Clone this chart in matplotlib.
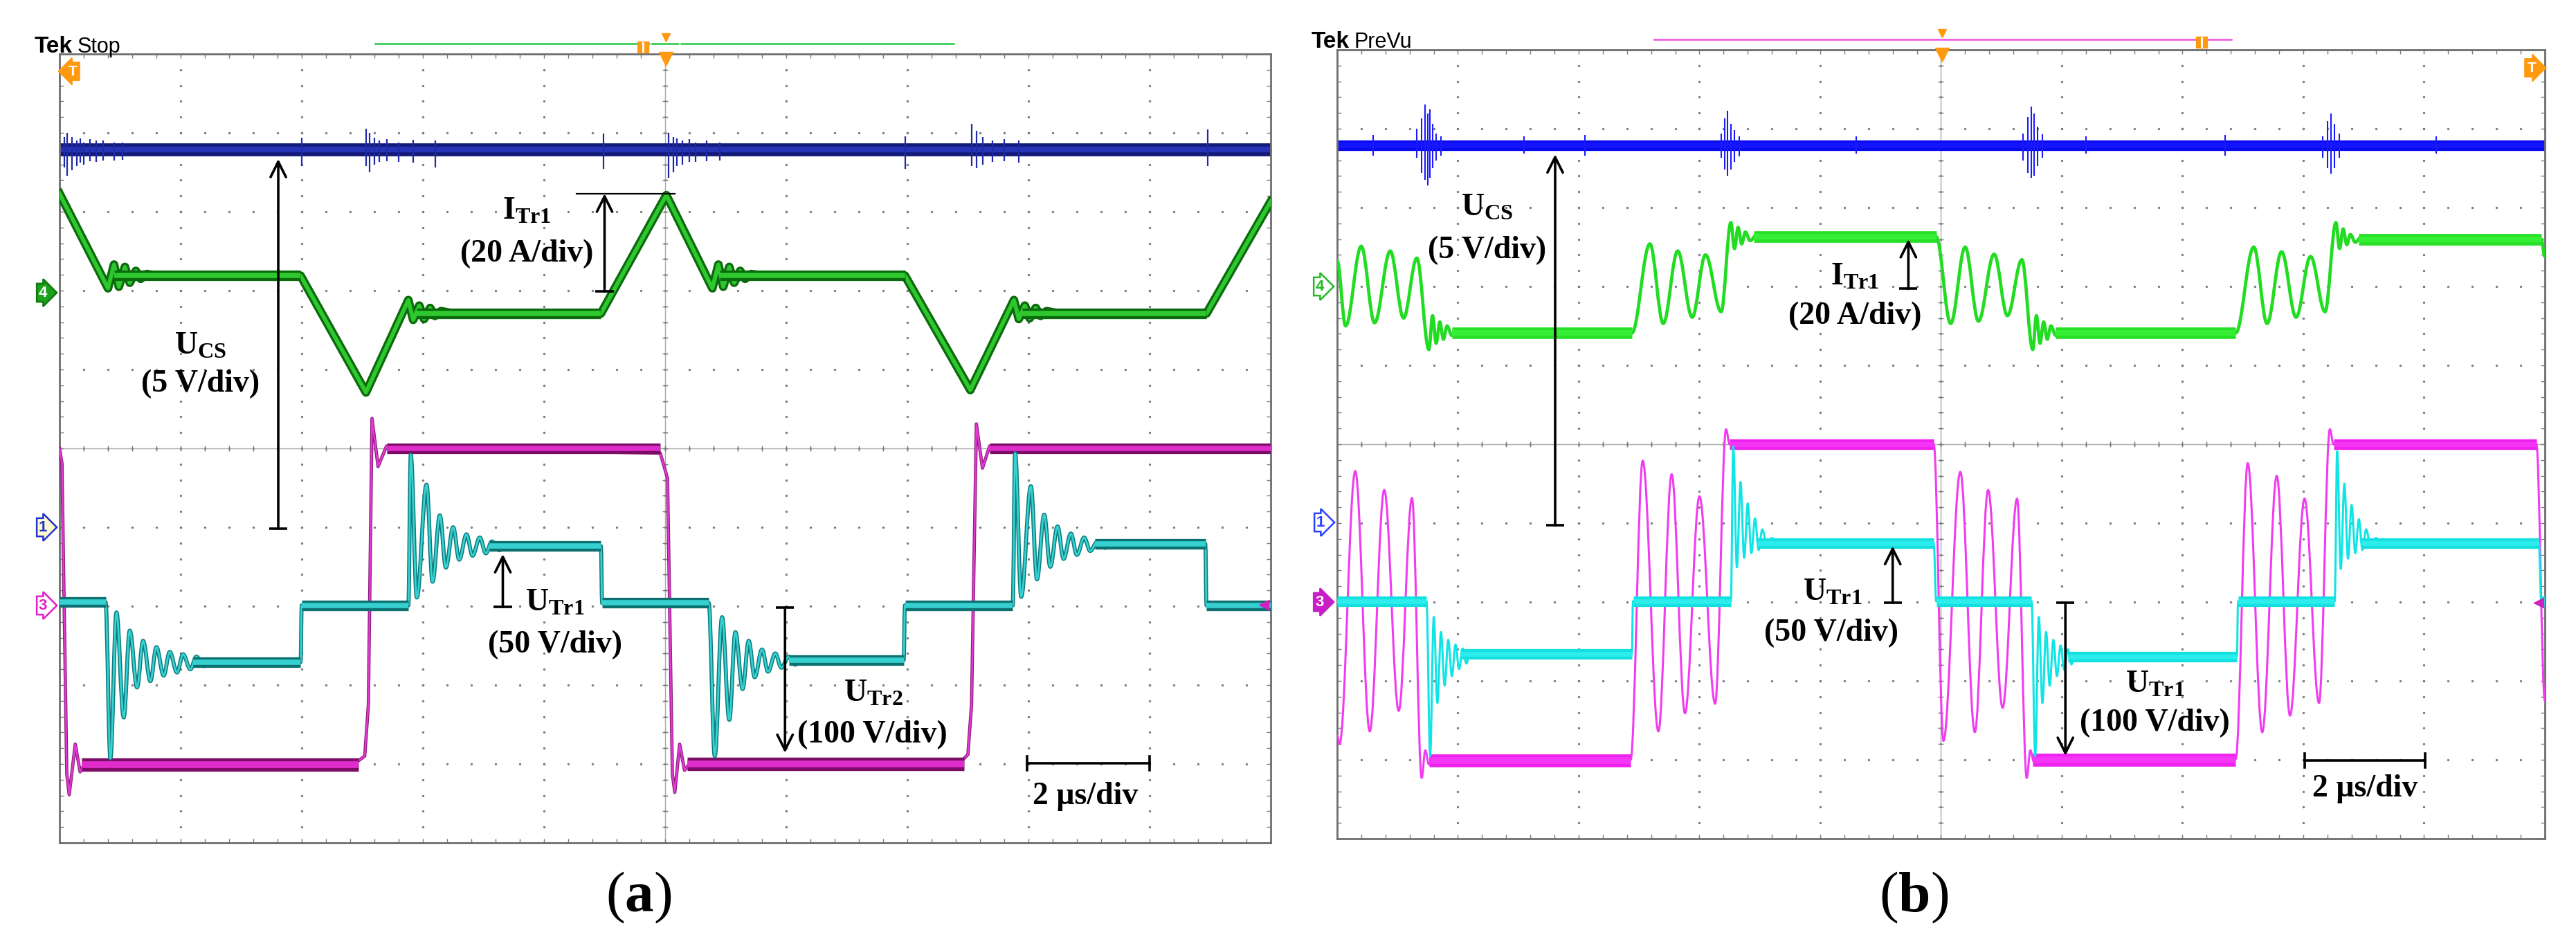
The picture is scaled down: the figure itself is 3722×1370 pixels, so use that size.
import numpy as np
import matplotlib
matplotlib.use("Agg")
import matplotlib.pyplot as plt
from matplotlib.path import Path
from matplotlib.patches import PathPatch

plt.rcParams["mathtext.fontset"] = "custom"
plt.rcParams["mathtext.rm"] = "Liberation Serif"
plt.rcParams["mathtext.bf"] = "Liberation Serif:bold"
plt.rcParams["mathtext.it"] = "Liberation Serif:italic"

# ---------------------------------------------------------------------------
# DATA  (oscilloscope screen divisions: x 0..10 div (2 us/div), y -5..5 div)
# ---------------------------------------------------------------------------
# ---- panel (a) ----
a_ucs_band_x0 = [0.0]
a_ucs_band_x1 = [10.0]
a_ucs_band_y = [3.79]
a_ucs_spike_x = [0.04, 0.06, 0.10, 0.14, 0.17, 0.20, 0.25, 0.30, 0.36, 0.45, 0.52,
                 2.00, 2.53, 2.56, 2.60, 2.64, 2.70, 2.80, 2.92, 3.10,
                 4.49, 5.03, 5.07, 5.10, 5.14, 5.20, 5.25, 5.34, 5.45,
                 6.98, 7.53, 7.57, 7.62, 7.70, 7.80, 7.92, 9.48]
a_ucs_spike_lo = [3.56, 3.46, 3.53, 3.58, 3.62, 3.60, 3.64, 3.63, 3.65, 3.65, 3.66,
                  3.58, 3.58, 3.50, 3.60, 3.63, 3.64, 3.63, 3.62, 3.56,
                  3.54, 3.43, 3.50, 3.58, 3.60, 3.63, 3.63, 3.64, 3.65,
                  3.54, 3.58, 3.55, 3.60, 3.63, 3.64, 3.62, 3.58]
a_ucs_spike_hi = [3.95, 4.00, 3.95, 3.90, 3.93, 3.88, 3.92, 3.90, 3.90, 3.88, 3.88,
                  3.94, 4.05, 4.00, 3.94, 3.90, 3.92, 3.88, 3.91, 3.90,
                  3.99, 4.00, 3.95, 3.93, 3.90, 3.92, 3.88, 3.90, 3.88,
                  3.96, 4.11, 4.03, 3.95, 3.90, 3.92, 3.90, 4.04]

a_itr1_x = [0.00, 0.40, 0.45, 0.49, 0.54, 0.58, 0.63, 0.67, 0.72, 0.80, 1.99, 2.53,
            2.88, 2.92, 2.97, 3.01, 3.06, 3.10, 3.15, 3.25, 4.47, 5.01,
            5.39, 5.44, 5.48, 5.53, 5.57, 5.62, 5.66, 5.71, 5.80, 6.98, 7.52,
            7.88, 7.92, 7.97, 8.01, 8.06, 8.10, 8.15, 8.25, 9.47, 10.00]
a_itr1_y = [3.23, 2.03, 2.33, 2.05, 2.30, 2.10, 2.25, 2.15, 2.21, 2.19, 2.19, 0.71,
            1.88, 1.63, 1.81, 1.64, 1.78, 1.68, 1.74, 1.71, 1.71, 3.21,
            2.03, 2.33, 2.05, 2.30, 2.10, 2.25, 2.15, 2.21, 2.19, 2.19, 0.74,
            1.88, 1.64, 1.81, 1.65, 1.78, 1.68, 1.74, 1.71, 1.71, 3.13]
a_itr1_band_x0 = [0.45, 2.95, 5.45, 7.95]
a_itr1_band_x1 = [1.99, 4.47, 6.98, 9.47]
a_itr1_band_y = [2.19, 1.71, 2.19, 1.71]

a_utr2_x = [0.00, 0.02, 0.06, 0.08, 0.13, 0.17, 0.22, 0.30,
            2.45, 2.52, 2.55, 2.58, 2.63, 2.70, 2.76,
            4.96, 5.02, 5.06, 5.08, 5.12, 5.16, 5.22, 5.30,
            7.45, 7.50, 7.53, 7.57, 7.62, 7.68, 7.75, 10.00]
a_utr2_y = [0.00, -0.19, -4.13, -4.39, -3.75, -4.10, -3.96, -4.00,
            -3.98, -3.90, -3.25, 0.38, -0.23, 0.03, 0.00,
            -0.06, -0.38, -4.13, -4.36, -3.75, -4.08, -3.96, -3.99,
            -3.96, -3.88, -3.25, 0.31, -0.25, 0.03, 0.00, 0.00]
a_utr2_low_x0 = [0.18, 5.18]
a_utr2_low_x1 = [2.47, 7.47]
a_utr2_low_y = [-4.01, -4.00]
a_utr2_high_x0 = [2.70, 7.68]
a_utr2_high_x1 = [4.96, 10.0]
a_utr2_high_y = [0.0, 0.0]

a_utr1_x = [0.00, 0.38, 0.42, 0.47, 0.53, 0.58, 0.64, 0.69, 0.75, 0.80,
            0.86, 0.91, 0.97, 1.02, 1.08, 1.13, 1.19, 1.26,
            1.99, 2.00, 2.88, 2.90,
            2.95, 3.03, 3.08, 3.14, 3.19, 3.25, 3.30, 3.36, 3.41, 3.47,
            3.52, 3.57, 3.63, 3.70, 4.47, 4.48,
            5.36, 5.41, 5.47, 5.53, 5.58, 5.64, 5.69, 5.74, 5.80, 5.85,
            5.91, 5.96, 6.02, 6.07, 6.15, 6.97, 6.98, 7.87, 7.89, 7.94,
            8.02, 8.07, 8.13, 8.18, 8.24, 8.29, 8.35, 8.40, 8.46, 8.51,
            8.57, 8.63, 8.70, 9.46, 9.47, 10.00]
a_utr1_y = [-1.95, -1.95, -3.93, -2.08, -3.41, -2.31, -3.03, -2.44, -2.95, -2.52,
            -2.88, -2.58, -2.84, -2.61, -2.80, -2.64, -2.76, -2.71,
            -2.71, -1.99, -1.99, -0.08,
            -1.89, -0.46, -1.69, -0.85, -1.51, -1.00, -1.41, -1.09, -1.36, -1.13,
            -1.33, -1.18, -1.29, -1.24, -1.24, -1.96,
            -1.96, -3.90, -2.14, -3.44, -2.33, -3.05, -2.44, -2.90, -2.55, -2.83,
            -2.60, -2.78, -2.64, -2.74, -2.68, -2.68, -1.99, -1.99, -0.06, -1.88,
            -0.48, -1.66, -0.84, -1.50, -0.99, -1.40, -1.08, -1.35, -1.13, -1.30,
            -1.18, -1.26, -1.21, -1.21, -1.99, -1.99]
a_utr1_band_x0 = [0.00, 1.10, 2.00, 3.55, 4.48, 6.02, 6.98, 8.55, 9.47]
a_utr1_band_x1 = [0.38, 1.99, 2.88, 4.47, 5.36, 6.97, 7.87, 9.46, 10.0]
a_utr1_band_y = [-1.95, -2.71, -1.99, -1.24, -1.96, -2.68, -1.99, -1.21, -1.99]

# ---- panel (b) ----
b_ucs_band_x0 = [0.0]
b_ucs_band_x1 = [10.0]
b_ucs_band_y = [3.79]
b_ucs_spike_x = [0.30, 0.66, 0.70, 0.73, 0.75, 0.77, 0.79, 0.82, 0.86, 1.55, 2.05,
                 3.18, 3.21, 3.23, 3.26, 3.29, 3.33, 4.30,
                 5.68, 5.72, 5.75, 5.77, 5.80, 5.84, 6.20, 7.35,
                 8.16, 8.20, 8.23, 8.26, 8.30, 9.10]
b_ucs_spike_lo = [3.66, 3.63, 3.44, 3.35, 3.28, 3.38, 3.50, 3.60, 3.66, 3.68, 3.66,
                  3.63, 3.48, 3.40, 3.48, 3.58, 3.65, 3.68,
                  3.60, 3.44, 3.38, 3.40, 3.53, 3.63, 3.68, 3.66,
                  3.63, 3.50, 3.43, 3.50, 3.63, 3.68]
b_ucs_spike_hi = [3.92, 4.00, 4.13, 4.31, 4.19, 4.25, 4.06, 3.94, 3.90, 3.90, 3.92,
                  3.94, 4.13, 4.23, 4.06, 3.98, 3.90, 3.90,
                  3.94, 4.15, 4.28, 4.19, 4.03, 3.93, 3.90, 3.92,
                  3.90, 4.10, 4.19, 4.06, 3.94, 3.90]

b_itr1_x = [0.00, 0.07, 0.20, 0.31, 0.44, 0.55, 0.66, 0.76,
            0.79, 0.82, 0.85, 0.88, 0.91, 0.95, 1.00, 1.10,
            2.44, 2.59, 2.70, 2.82, 2.94, 3.05, 3.18, 3.26,
            3.29, 3.32, 3.35, 3.38, 3.42, 3.47, 3.55,
            4.96, 5.08, 5.20, 5.31, 5.44, 5.55, 5.67, 5.76,
            5.79, 5.82, 5.85, 5.88, 5.91, 5.95, 6.00, 6.10,
            7.44, 7.59, 7.70, 7.82, 7.94, 8.06, 8.18, 8.27,
            8.30, 8.33, 8.36, 8.39, 8.43, 8.48, 8.55, 9.97, 10.00]
b_itr1_y = [2.33, 1.50, 2.51, 1.54, 2.45, 1.60, 2.36, 1.20,
            1.63, 1.28, 1.55, 1.33, 1.50, 1.38, 1.44, 1.41,
            1.41, 2.54, 1.53, 2.45, 1.61, 2.40, 1.68, 2.81,
            2.48, 2.75, 2.54, 2.69, 2.58, 2.65, 2.63,
            2.63, 1.53, 2.50, 1.56, 2.41, 1.63, 2.34, 1.20,
            1.63, 1.28, 1.55, 1.33, 1.50, 1.38, 1.44, 1.41,
            1.41, 2.50, 1.53, 2.44, 1.61, 2.38, 1.68, 2.81,
            2.48, 2.73, 2.53, 2.66, 2.56, 2.63, 2.60, 2.60, 2.38]
b_itr1_band_x0 = [0.95, 3.45, 5.95, 8.46]
b_itr1_band_x1 = [2.44, 4.96, 7.44, 9.97]
b_itr1_band_y = [1.41, 2.63, 1.41, 2.60]

b_utr2_x = [0.00, 0.02, 0.15, 0.27, 0.39, 0.51, 0.62, 0.70,
            0.73, 0.76, 0.80, 2.43,
            2.53, 2.66, 2.77, 2.88, 3.00, 3.13, 3.22, 3.25,
            4.94, 5.02, 5.16, 5.28, 5.39, 5.51, 5.63, 5.71,
            5.74, 5.77, 5.80, 7.44,
            7.54, 7.66, 7.78, 7.89, 8.01, 8.13, 8.22, 8.25, 9.93, 10.00]
b_utr2_y = [-3.69, -3.80, -0.34, -3.64, -0.58, -3.38, -0.68, -4.23,
            -3.88, -4.06, -4.00, -4.00,
            -0.21, -3.64, -0.38, -3.41, -0.66, -3.29, 0.19, 0.00,
            0.00, -3.76, -0.35, -3.65, -0.58, -3.34, -0.69, -4.23,
            -3.88, -4.03, -3.99, -3.99,
            -0.24, -3.65, -0.40, -3.44, -0.69, -3.28, 0.19, 0.00, 0.00, -3.25]
b_utr2_low_x0 = [0.76, 5.76]
b_utr2_low_x1 = [2.43, 7.44]
b_utr2_low_y = [-4.01, -4.00]
b_utr2_high_x0 = [3.25, 8.25]
b_utr2_high_x1 = [4.94, 9.93]
b_utr2_high_y = [0.0, 0.0]

b_utr1_x = [0.00, 0.74, 0.77, 0.80, 0.83, 0.86, 0.89, 0.92, 0.95, 0.98,
            1.01, 1.04, 1.07, 1.10, 1.14, 1.20, 2.44, 2.45, 3.26, 3.28,
            3.31, 3.34, 3.37, 3.40, 3.43, 3.46, 3.49, 3.52, 3.56, 3.60,
            3.66, 4.94, 4.96,
            5.75, 5.78, 5.81, 5.84, 5.87, 5.90, 5.93, 5.96, 5.99, 6.02,
            6.05, 6.08, 6.11, 6.15, 6.21, 7.45, 7.46, 8.26, 8.28,
            8.31, 8.34, 8.37, 8.40, 8.43, 8.46, 8.49, 8.52, 8.56, 8.60,
            8.66, 9.95, 9.97, 10.00]
b_utr1_y = [-1.99, -1.99, -3.95, -2.19, -3.28, -2.38, -3.06, -2.48, -2.94, -2.54,
            -2.85, -2.59, -2.78, -2.63, -2.71, -2.66, -2.66, -1.99, -1.99, -0.03,
            -1.56, -0.48, -1.44, -0.75, -1.38, -0.94, -1.34, -1.08, -1.30, -1.19,
            -1.25, -1.25, -1.99,
            -1.99, -3.95, -2.19, -3.28, -2.38, -3.06, -2.48, -2.94, -2.55, -2.86,
            -2.60, -2.79, -2.65, -2.72, -2.69, -2.69, -1.99, -1.99, -0.09,
            -1.58, -0.50, -1.45, -0.77, -1.38, -0.95, -1.34, -1.08, -1.30, -1.19,
            -1.25, -1.25, -1.99, -1.99]
b_utr1_band_x0 = [0.00, 1.02, 2.45, 3.48, 4.96, 6.05, 7.46, 8.48, 9.97]
b_utr1_band_x1 = [0.74, 2.44, 3.26, 4.94, 5.75, 7.45, 8.26, 9.95, 10.0]
b_utr1_band_y = [-1.99, -2.66, -1.99, -1.25, -1.99, -2.69, -1.99, -1.25, -1.99]

# ---- annotation texts ----
lab_ucs = r"$\mathbf{U}_{\mathbf{CS}}$"
lab_ucs_scale = "(5 V/div)"
lab_itr1 = r"$\mathbf{I}_{\mathbf{Tr1}}$"
lab_itr1_scale = "(20 A/div)"
lab_utr1 = r"$\mathbf{U}_{\mathbf{Tr1}}$"
lab_utr1_scale = "(50 V/div)"
lab_utr2 = r"$\mathbf{U}_{\mathbf{Tr2}}$"
lab_100 = "(100 V/div)"
lab_time = "2 \u03bcs/div"

# ---------------------------------------------------------------------------
W, H = 3723, 1370
fig = plt.figure(figsize=(W / 100, H / 100), dpi=100)
fig.patch.set_facecolor("white")

SERIF = "Liberation Serif"
FS = 33


def px_rect(left, top, right, bottom):
    return [left / W, 1 - bottom / H, (right - left) / W, (bottom - top) / H]


def make_panel(rect):
    ax = fig.add_axes(rect)
    ax.set_xlim(0, 10)
    ax.set_ylim(-5, 5)
    ax.set_xticks([])
    ax.set_yticks([])
    ax.set_xticks(np.arange(0, 10.001, 0.2), minor=True)
    ax.set_yticks(np.arange(-5, 5.001, 0.2), minor=True)
    ax.tick_params(which="minor", direction="in", length=4, width=1.0,
                   color="#7a7a7a", top=True, right=True, bottom=True, left=True,
                   labelbottom=False, labelleft=False)
    for s in ax.spines.values():
        s.set_color("#6e6e6e")
        s.set_linewidth(2.0)
    ys = np.arange(-5, 5.001, 0.2)
    xs = np.arange(0, 10.001, 0.2)
    for gx in range(1, 10):
        ax.scatter(np.full_like(ys, gx), ys, s=6, color="#7c7c7c", lw=0, zorder=1)
    for gy in range(-4, 5):
        ax.scatter(xs, np.full_like(xs, gy), s=6, color="#7c7c7c", lw=0, zorder=1)
    ax.axhline(0, color="#a8a8a8", lw=1.0, zorder=1)
    ax.axvline(5, color="#a8a8a8", lw=1.0, zorder=1)
    ax.plot(xs, np.zeros_like(xs), ls="none", marker="|", ms=6, mew=1.0,
            color="#7a7a7a", zorder=1)
    ax.plot(np.full_like(ys, 5), ys, ls="none", marker="_", ms=6, mew=1.0,
            color="#7a7a7a", zorder=1)
    return ax


def bands(ax, x0, x1, y, lw, edge, core=None, core_lw=None, z=3):
    for a, b, c in zip(x0, x1, y):
        ax.plot([a, b], [c, c], color=edge, lw=lw, solid_capstyle="butt", zorder=z)
        if core is not None:
            ax.plot([a, b], [c, c], color=core, lw=core_lw,
                    solid_capstyle="butt", zorder=z)


def smooth(ax, xs, ys, color, lw, z, k=0.36):
    verts = [(xs[0], ys[0])]
    codes = [Path.MOVETO]
    for i in range(len(xs) - 1):
        dx = xs[i + 1] - xs[i]
        verts += [(xs[i] + k * dx, ys[i]), (xs[i + 1] - k * dx, ys[i + 1]),
                  (xs[i + 1], ys[i + 1])]
        codes += [Path.CURVE4] * 3
    ax.add_patch(PathPatch(Path(verts, codes), fill=False, edgecolor=color, lw=lw,
                           zorder=z, joinstyle="round", capstyle="round"))


def up_arrow(ax, x, tip, bar, barw=0.075):
    ax.annotate("", xy=(x, tip), xytext=(x, bar),
                arrowprops=dict(arrowstyle="->", color="black", lw=2.6,
                                mutation_scale=40, shrinkA=0, shrinkB=0),
                zorder=9)
    ax.plot([x - barw, x + barw], [bar, bar], color="black", lw=2.6,
            solid_capstyle="butt", zorder=9)


def label(ax, x, y, s, fs=FS):
    ax.text(x, y, s, ha="center", va="center", fontsize=fs, family=SERIF,
            fontweight="bold", zorder=9)


def scalebar(ax, x0, x1, y, cap=0.09):
    ax.plot([x0, x1], [y, y], color="black", lw=2.6, zorder=9)
    ax.plot([x0, x0], [y - cap, y + cap], color="black", lw=2.6, zorder=9)
    ax.plot([x1, x1], [y - cap, y + cap], color="black", lw=2.6, zorder=9)


# ============================ panel (a) =====================================
axa = make_panel(px_rect(86, 78, 1836, 1218))
bands(axa, a_ucs_band_x0, a_ucs_band_x1, a_ucs_band_y, 13.5, "#141a78", "#2633b4", 6, z=2)
axa.vlines(a_ucs_spike_x, a_ucs_spike_lo, a_ucs_spike_hi, color="#1f2aa8", lw=1.6, zorder=2)
axa.plot(a_itr1_x, a_itr1_y, color="#0b6a0b", lw=9, solid_joinstyle="round", zorder=3)
axa.plot(a_itr1_x, a_itr1_y, color="#2ec82e", lw=4.2, solid_joinstyle="round", zorder=3)
bands(axa, a_itr1_band_x0, a_itr1_band_x1, a_itr1_band_y, 11, "#0b6a0b", "#2ec82e", 5.5, z=3)
axa.plot(a_utr2_x, a_utr2_y, color="#8a1a7a", lw=3.4, solid_joinstyle="round", zorder=4)
axa.plot(a_utr2_x, a_utr2_y, color="#e23ad2", lw=1.8, solid_joinstyle="round", zorder=4)
bands(axa, a_utr2_low_x0, a_utr2_low_x1, a_utr2_low_y, 14, "#7c0c66", "#e02ccc", 7, z=4)
bands(axa, a_utr2_high_x0, a_utr2_high_x1, a_utr2_high_y, 11, "#7c0c66", "#e02ccc", 5.5, z=4)
smooth(axa, a_utr1_x, a_utr1_y, "#0d7a7c", 4.2, 5)
smooth(axa, a_utr1_x, a_utr1_y, "#36d2d2", 2.0, 5)
bands(axa, a_utr1_band_x0, a_utr1_band_x1, a_utr1_band_y, 11, "#0d7070", "#36d0d0", 5.5, z=5)

up_arrow(axa, 1.806, 3.67, -1.02)
label(axa, 1.166, 1.29, lab_ucs)
label(axa, 1.166, 0.82, lab_ucs_scale)
axa.plot([4.27, 5.08], [3.23, 3.23], color="black", lw=1.6, zorder=9)
up_arrow(axa, 4.50, 3.23, 1.99)
label(axa, 3.86, 3.00, lab_itr1)
label(axa, 3.86, 2.47, lab_itr1_scale)
up_arrow(axa, 3.66, -1.34, -2.01)
label(axa, 4.09, -1.96, lab_utr1)
label(axa, 4.09, -2.49, lab_utr1_scale)
up_arrow(axa, 5.99, -3.86, -2.02)
label(axa, 6.72, -3.11, lab_utr2)
label(axa, 6.71, -3.63, lab_100)
scalebar(axa, 7.99, 9.00, -3.99)
label(axa, 8.47, -4.41, lab_time)

# ============================ panel (b) =====================================
axb = make_panel(px_rect(1932, 72, 3677, 1212))
bands(axb, b_ucs_band_x0, b_ucs_band_x1, b_ucs_band_y, 11, "#0a0aee", "#1414ff", 6, z=2)
axb.vlines(b_ucs_spike_x, b_ucs_spike_lo, b_ucs_spike_hi, color="#1a1aff", lw=1.5, zorder=2)
smooth(axb, b_itr1_x, b_itr1_y, "#22dc22", 3.4, 3)
bands(axb, b_itr1_band_x0, b_itr1_band_x1, b_itr1_band_y, 12, "#26e026", "#36ee36", 6, z=3)
smooth(axb, b_utr2_x, b_utr2_y, "#f03cf0", 2.2, 4)
bands(axb, b_utr2_low_x0, b_utr2_low_x1, b_utr2_low_y, 13.5, "#ee22ee", "#f636f6", 7, z=4)
bands(axb, b_utr2_high_x0, b_utr2_high_x1, b_utr2_high_y, 11, "#ee22ee", "#f636f6", 5, z=4)
smooth(axb, b_utr1_x, b_utr1_y, "#10e4e4", 2.2, 5)
bands(axb, b_utr1_band_x0, b_utr1_band_x1, b_utr1_band_y, 11, "#14e0e0", "#2cecec", 5, z=5)

up_arrow(axb, 1.805, 3.675, -1.03)
label(axb, 1.24, 2.99, lab_ucs)
label(axb, 1.24, 2.46, lab_ucs_scale)
up_arrow(axb, 4.73, 2.60, 1.97)
label(axb, 4.29, 2.12, lab_itr1)
label(axb, 4.29, 1.62, lab_itr1_scale)
up_arrow(axb, 4.60, -1.29, -2.01)
label(axb, 4.10, -1.88, lab_utr1)
label(axb, 4.09, -2.39, lab_utr1_scale)
up_arrow(axb, 6.03, -3.95, -2.01)
label(axb, 6.77, -3.05, lab_utr1)
label(axb, 6.77, -3.53, lab_100)
scalebar(axb, 8.01, 9.01, -4.01)
label(axb, 8.51, -4.37, lab_time)

# ============================ overlay (screen furniture) ====================
ov = fig.add_axes([0, 0, 1, 1])
ov.set_xlim(0, W)
ov.set_ylim(H, 0)
ov.axis("off")
ov.patch.set_alpha(0)

SANS = "Liberation Sans"
ov.text(50, 76, "Tek", fontsize=24, fontweight="bold", family=SANS, va="baseline")
ov.text(112, 76, "Stop", fontsize=22, family=SANS, va="baseline")
ov.text(1895, 69, "Tek", fontsize=24, fontweight="bold", family=SANS, va="baseline")
ov.text(1957, 69, "PreVu", fontsize=22, family=SANS, va="baseline")

ov.plot([542, 938], [63, 63], color="#22c84a", lw=1.8)
ov.plot([942, 980], [63, 63], color="#22c84a", lw=1.8)
ov.plot([984, 1378], [63, 63], color="#22c84a", lw=1.8)
ov.plot([2390, 3224], [57, 57], color="#f050e0", lw=1.8)

ORANGE = "#ff9a10"
for (tx, ty_small, ty_big) in [(962, 54, 85), (2806, 48, 79)]:
    ov.plot([tx], [ty_small], marker="v", ms=8, color=ORANGE, ls="none")
    ov.plot([tx], [ty_big], marker="v", ms=14, color=ORANGE, ls="none")
for (tx, ty) in [(929, 68), (3181, 61)]:
    ov.plot([tx], [ty], marker="s", ms=12, mfc=ORANGE, mec=ORANGE, ls="none")
    ov.plot([tx, tx], [ty - 6, ty + 6], color="white", lw=2.2)

ov.text(105, 103, "T", fontsize=15, fontweight="bold", color="white", family=SANS,
        ha="center", va="center",
        bbox=dict(boxstyle="larrow,pad=0.18", fc=ORANGE, ec=ORANGE))
ov.text(3658, 98, "T", fontsize=15, fontweight="bold", color="white", family=SANS,
        ha="center", va="center",
        bbox=dict(boxstyle="rarrow,pad=0.18", fc=ORANGE, ec=ORANGE))


def chan(x, y, s, fc, ec, tc):
    ov.text(x, y, s, fontsize=16, fontweight="bold", color=tc, family=SANS,
            ha="center", va="center",
            bbox=dict(boxstyle="rarrow,pad=0.12", fc=fc, ec=ec, lw=1.8))


chan(62, 423, "4", "#1aa31a", "#117711", "white")
chan(62, 762, "1", "#fff9d0", "#2233cc", "#2233cc")
chan(62, 875, "3", "white", "#e020c8", "#e020c8")
chan(1907, 414, "4", "white", "#22bb22", "#22bb22")
chan(1908, 755, "1", "white", "#2a40ff", "#2a40ff")
chan(1907, 870, "3", "#c81ec8", "#c81ec8", "white")
ov.plot([1826], [874], marker="<", ms=10, color="#d020c0", ls="none")
ov.plot([3668], [871], marker="<", ms=10, color="#d020c0", ls="none")

fig.text(923 / W, 1 - 1297 / H, r"($\mathbf{a}$)", fontsize=60, family=SERIF,
         ha="center", va="center")
fig.text(2765 / W, 1 - 1297 / H, r"($\mathbf{b}$)", fontsize=60, family=SERIF,
         ha="center", va="center")

fig.savefig("out.png", dpi=100, facecolor="white")
